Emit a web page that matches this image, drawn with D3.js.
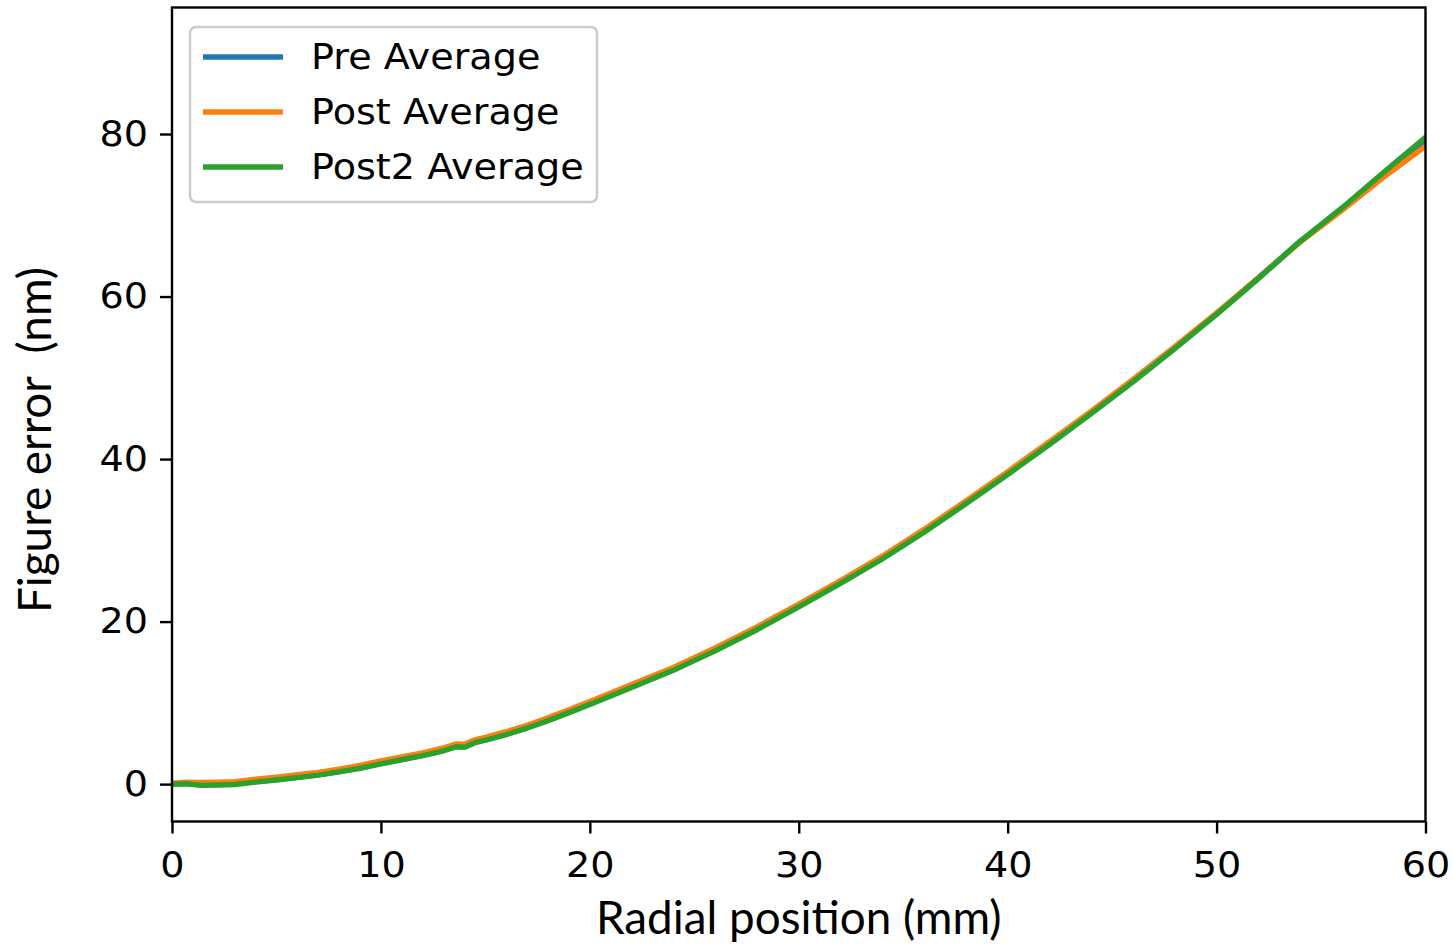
<!DOCTYPE html>
<html>
<head>
<meta charset="utf-8">
<script src="https://cdn.jsdelivr.net/npm/d3@7"></script>
<style>
  html, body { margin: 0; padding: 0; background: #fff; }
  svg { display: block; }
</style>
</head>
<body>
<svg id="chart" width="1453" height="945"></svg>
<script>
// ---- data ----
const radialPos = [0, 0.7, 1.4, 2.2, 3, 4, 5, 6, 7, 8, 9, 10, 11, 12, 13, 13.6, 14, 14.5, 15, 16, 17, 18, 19, 20,
                   22, 24, 26, 28, 30, 32, 34, 36, 38, 40, 42, 44, 46, 48, 50, 52, 54, 56, 58, 60];
const preAverage = [0.0, 0.1, -0.05, 0.0, 0.05, 0.3, 0.55, 0.85, 1.15, 1.55, 2.0, 2.55, 3.05, 3.55, 4.15, 4.65, 4.6, 5.15, 5.45,
                    6.15, 6.95, 7.85, 8.85, 9.9, 12.0, 14.1, 16.5, 19.1, 21.9, 24.8, 27.8, 31.1, 34.6, 38.2, 41.9, 45.7,
                    49.6, 53.7, 57.9, 62.3, 66.8, 70.8, 75.1, 79.2];
const postAverage = [0.1, 0.25, 0.2, 0.25, 0.3, 0.6, 0.85, 1.15, 1.45, 1.85, 2.3, 2.85, 3.35, 3.85, 4.45, 4.95, 4.9, 5.45, 5.75,
                     6.45, 7.25, 8.15, 9.15, 10.15, 12.25, 14.35, 16.75, 19.35, 22.15, 25.05, 28.05, 31.35, 34.85, 38.45,
                     42.15, 45.9, 49.8, 53.85, 58.0, 62.3, 66.7, 70.6, 74.7, 78.5];
const post2Average = [0.0, 0.05, -0.15, -0.1, -0.05, 0.25, 0.5, 0.8, 1.1, 1.5, 1.95, 2.5, 3.0, 3.5, 4.1, 4.6, 4.55, 5.1, 5.4,
                      6.1, 6.9, 7.8, 8.8, 9.8, 11.9, 14.0, 16.4, 19.0, 21.8, 24.7, 27.7, 31.0, 34.5, 38.1, 41.8, 45.6,
                      49.5, 53.6, 57.8, 62.2, 66.8, 70.9, 75.3, 79.6];
const seriesNames = ["Pre Average", "Post Average", "Post2 Average"];
const seriesColors = ["#1f77b4", "#ff7f0e", "#2ca02c"];
const xTicks = [0, 10, 20, 30, 40, 50, 60];
const yTicks = [0, 20, 40, 60, 80];
const xLabel = "Radial position (mm)";
const yLabel = "Figure error  (nm)";

// ---- layout ----
const svg = d3.select("#chart");
const margin = { left: 172, top: 7.5, right: 1453 - 1425.5, bottom: 945 - 821.5 };
const W = 1453 - margin.left - margin.right;
const H = 945 - margin.top - margin.bottom;

const x = d3.scaleLinear().domain([0, 60]).range([0, W]);
const y = d3.scaleLinear().domain([-4.6, 95.57]).range([H, 0]);

const g = svg.append("g").attr("transform", `translate(${margin.left},${margin.top})`);

g.append("defs").append("clipPath").attr("id", "clip")
  .append("rect").attr("width", W).attr("height", H);

const tickFont = "'DejaVu Sans', sans-serif";
const stretch = 1.09;

// axes
const xAxis = g.append("g").attr("transform", `translate(0,${H})`)
  .call(d3.axisBottom(x).tickValues(xTicks).tickSize(12).tickPadding(19).tickFormat(d3.format("d")));
const yAxis = g.append("g")
  .call(d3.axisLeft(y).tickValues(yTicks).tickSize(12).tickPadding(12).tickFormat(d3.format("d")));
[xAxis, yAxis].forEach(a => {
  a.select(".domain").remove();
  a.selectAll(".tick line").attr("stroke", "#000").attr("stroke-width", 2.4);
  a.selectAll(".tick text").attr("fill", "#000").style("font-family", tickFont).style("font-size", "35px");
});
xAxis.selectAll(".tick text").attr("transform", `scale(${stretch},1)`);
yAxis.selectAll(".tick text").attr("x", -24 / stretch).attr("transform", `scale(${stretch},1)`);

// lines
const rows = [preAverage, postAverage, post2Average];
const line = d3.line().x(d => x(d[0])).y(d => y(d[1]));
rows.forEach((vals, i) => {
  const pts = radialPos.map((p, k) => [p, vals[k]]);
  g.append("path").datum(pts)
    .attr("clip-path", "url(#clip)")
    .attr("fill", "none")
    .attr("stroke", seriesColors[i])
    .attr("stroke-width", 5.4)
    .attr("stroke-linejoin", "round")
    .attr("stroke-linecap", "square")
    .attr("d", line);
});

// frame
g.append("rect").attr("width", W).attr("height", H)
  .attr("fill", "none").attr("stroke", "#000").attr("stroke-width", 2.4);

// axis labels
const labelFont = "Lato, 'Open Sans', sans-serif";
svg.append("text")
  .attr("x", margin.left + W / 2).attr("y", 934)
  .attr("text-anchor", "middle")
  .style("font-family", labelFont).style("font-size", "45.8px").attr("fill", "#000")
  .text(xLabel);
svg.append("text")
  .attr("transform", `translate(51,440) rotate(-90)`)
  .attr("text-anchor", "middle")
  .style("font-family", labelFont).style("font-size", "45.8px").style("white-space", "pre").attr("fill", "#000")
  .text(yLabel);

// legend
const lg = svg.append("g").attr("transform", "translate(190,27)");
lg.append("rect").attr("x", 0).attr("y", 0).attr("width", 407).attr("height", 175)
  .attr("rx", 6).attr("ry", 6)
  .attr("fill", "#fff").attr("fill-opacity", 0.8)
  .attr("stroke", "#cccccc").attr("stroke-width", 2.5);
seriesNames.forEach((name, i) => {
  const cy = 30 + i * 55;
  lg.append("line").attr("x1", 13).attr("x2", 93).attr("y1", cy).attr("y2", cy)
    .attr("stroke", seriesColors[i]).attr("stroke-width", 5.4);
  lg.append("text").attr("x", 121 / stretch).attr("y", cy + 12.5)
    .attr("transform", `scale(${stretch},1)`)
    .style("font-family", tickFont).style("font-size", "35px").attr("fill", "#000")
    .text(name);
});
</script>
</body>
</html>
